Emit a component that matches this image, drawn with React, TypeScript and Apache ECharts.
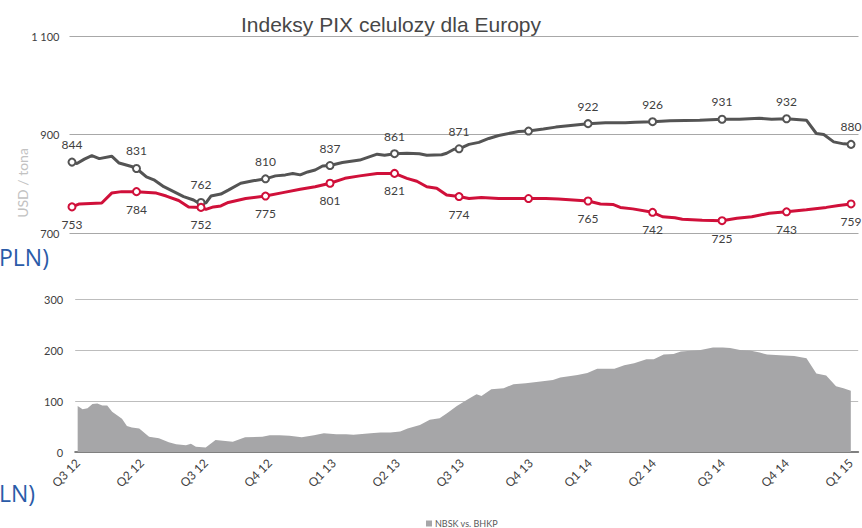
import React, { useEffect, useRef } from "react";
import * as echarts from "echarts";

const quarterWeeks = [0, 13, 26, 39, 52, 65, 78, 92, 104, 117, 131, 144, 157];
const quarterLabels = ["Q3 12", "Q2 12", "Q3 12", "Q4 12", "Q1 13", "Q2 13", "Q3 13", "Q4 13", "Q1 14", "Q2 14", "Q3 14", "Q4 14", "Q1 15"];
const unlabeledWeeks = [92];

const grayWeeks = [0, 1, 2.5, 4, 5.5, 8, 9.5, 12, 13, 15, 16.5, 18.5, 20.5, 22.5, 24.5, 25.5, 26, 27, 28, 30, 31.5, 34, 36.5, 39, 41, 43, 44.5, 46, 47.5, 49, 50.5, 52, 54.5, 58, 61.5, 63, 65, 67.5, 70, 71.5, 74.5, 75.5, 77, 78, 80, 82, 84, 86, 89, 90, 92, 95, 97.5, 101, 104, 107.5, 111.5, 113.5, 117, 120.5, 126.5, 131, 134.5, 138.5, 141, 144, 148, 150, 151.5, 153.5, 155.5, 157];
const grayValues = [844, 841, 850, 857, 851, 856, 842, 835, 831, 814, 808, 794, 784, 774, 767, 761, 762, 761, 775, 779, 787, 801, 806, 810, 816, 818, 821, 818, 824, 828, 836, 837, 843, 848, 860, 858, 861, 862, 861, 858, 859, 862, 870, 871, 880, 884, 892, 898, 904, 906, 907, 911, 915, 919, 922, 924, 924, 925, 926, 928, 929, 931, 931, 933, 931, 932, 929, 902, 900, 885, 881, 880];

const redWeeks = [0, 1.5, 6, 8, 10, 13, 17, 19, 21.5, 23.5, 26, 27, 28.5, 30, 31.5, 35, 39, 42.5, 46, 49, 52, 55, 58, 61.5, 65, 67.5, 69.5, 71.5, 73.5, 75.5, 78, 80, 82.5, 86, 92, 95.5, 98, 104, 106.5, 109, 110.5, 113, 117, 119, 121.5, 123, 127, 131, 134, 137, 140.5, 144, 148, 152, 154.5, 157];
const redValues = [753, 759, 761, 781, 784, 784, 781, 775, 766, 753, 752, 748, 753, 755, 762, 770, 775, 782, 789, 794, 801, 811, 816, 821, 821, 811, 805, 794, 791, 777, 774, 770, 772, 770, 770, 770, 769, 765, 759, 758, 752, 749, 742, 733, 731, 728, 726, 725, 730, 733, 740, 743, 747, 752, 756, 759];

const spreadWeeks = [0, 1, 2, 3, 4, 5, 6, 7, 9, 10, 11, 12.5, 14.5, 16.5, 18.5, 20, 22, 23, 24, 26, 28, 29.5, 31.5, 34, 37.5, 39, 41, 43, 45.5, 48, 50, 52.5, 54.5, 56, 59.5, 61.5, 63.5, 65.5, 67, 69.5, 71.5, 73.5, 75, 77, 78, 79.5, 81, 82, 84, 86.5, 88.5, 91, 94, 96.5, 98, 101.5, 103.5, 105.5, 109, 111, 113, 115.5, 117, 119, 121, 122.5, 126.5, 129, 131, 132.5, 134.5, 136.5, 138.5, 140, 143.5, 145.5, 148, 150, 152, 154, 155.5, 157];
const spreadValues = [90, 84, 86, 94, 95, 91, 91, 79, 65, 51, 48, 46, 30, 27, 19, 15, 13, 16, 10.5, 9, 23.5, 22, 20, 29, 30, 33, 33, 32, 29, 33, 37, 35, 35, 34, 37, 38, 38, 40, 46, 53, 63, 66, 76, 90, 96, 105, 113, 110, 123, 125, 133, 135, 138, 141, 146, 151, 155, 163, 163, 170, 174, 182, 182, 191, 192, 197, 200, 205, 205, 204, 200, 199, 195, 191, 189, 188, 184, 154, 150, 129, 125, 120];

const topTicks = { min: 700, max: 1100, interval: 200 };
const bottomTicks = { min: 0, max: 300, interval: 100 };

const GRAY = "#545454";
const RED = "#d0103a";
const AREA = "#a6a6a8";
const TEXT = "#404040";
const GRID = "#a8a8a8";
const FONT = "Lato, 'Liberation Sans', sans-serif";

function fmtThousands(v: number): string {
  if (v >= 1000) {
    return `${Math.floor(v / 1000)} ${String(v % 1000).padStart(3, "0")}`;
  }
  return String(v);
}

function buildLine(weeks: number[], values: number[]) {
  return weeks.map((w, i) => {
    const isQ = quarterWeeks.includes(w);
    return {
      value: [w, values[i]],
      symbol: isQ ? "circle" : "none",
      label: { show: isQ && !unlabeledWeeks.includes(w) },
    };
  });
}

export default function App() {
  const ref = useRef<HTMLDivElement>(null);

  useEffect(() => {
    if (!ref.current) return;
    const chart = echarts.init(ref.current, undefined, { renderer: "svg" });

    const xCommon = { type: "value", min: -0.5, max: 158.5 };

    chart.setOption({
      animation: false,
      textStyle: { fontFamily: FONT },
      title: {
        text: "Indeksy PIX celulozy dla Europy",
        left: 386,
        textAlign: "center",
        top: 9,
        textStyle: {
          fontFamily: "'Liberation Sans', Arial, sans-serif",
          fontSize: 21,
          fontWeight: "normal",
          color: "#474747",
        },
      },
      legend: {
        data: ["NBSK vs. BHKP"],
        left: 421,
        top: 514,
        icon: "rect",
        itemWidth: 6,
        itemHeight: 6,
        itemGap: 3,
        textStyle: { fontSize: 9, color: "#595959", fontFamily: FONT, padding: [0, 0, 0, -2] },
      },
      grid: [
        { left: 69.5, width: 789, top: 36, height: 197 },
        { left: 75.2, width: 783, top: 299, height: 153 },
      ],
      xAxis: [
        {
          ...xCommon,
          gridIndex: 0,
          show: false,
          splitLine: { show: false },
        },
        {
          ...xCommon,
          gridIndex: 1,
          axisLine: { show: true, lineStyle: { color: "#808080", width: 2 } },
          axisTick: { show: false },
          splitLine: { show: false },
          axisLabel: {
            customValues: quarterWeeks,
            rotate: 45,
            margin: 9,
            fontSize: 12,
            color: TEXT,
            fontFamily: FONT,
            formatter: (v: number) => {
              const idx = quarterWeeks.indexOf(v);
              return idx >= 0 ? quarterLabels[idx] : "";
            },
          },
        },
      ],
      yAxis: [
        {
          type: "value",
          gridIndex: 0,
          ...topTicks,
          axisLine: { show: false },
          axisTick: { show: false },
          splitLine: { show: true, lineStyle: { color: GRID, width: 1 } },
          axisLabel: {
            margin: 10,
            fontSize: 11,
            color: TEXT,
            fontFamily: FONT,
            formatter: (v: number) => fmtThousands(v),
          },
        },
        {
          type: "value",
          gridIndex: 1,
          ...bottomTicks,
          axisLine: { show: false },
          axisTick: { show: false },
          splitLine: { show: true, lineStyle: { color: "#bdbdbd", width: 1 } },
          axisLabel: {
            margin: 12,
            fontSize: 11,
            color: TEXT,
            fontFamily: FONT,
          },
        },
      ],
      graphic: [
        {
          type: "text",
          x: 22,
          y: 183,
          rotation: Math.PI / 2,
          style: {
            text: "USD / tona",
            fill: "#c2c2c2",
            fontSize: 14,
            fontFamily: FONT,
            align: "center",
            verticalAlign: "middle",
          },
        },
        {
          type: "text",
          x: -1,
          y: 257,
          style: {
            text: "PLN)",
            fill: "#2a5ba8",
            fontSize: 23,
            fontFamily: "'Open Sans', sans-serif",
            align: "left",
            verticalAlign: "middle",
          },
        },
        {
          type: "text",
          x: -1,
          y: 493,
          style: {
            text: "LN)",
            fill: "#2a5ba8",
            fontSize: 23,
            fontFamily: "'Open Sans', sans-serif",
            align: "left",
            verticalAlign: "middle",
          },
        },
      ],
      series: [
        {
          name: "NBSK",
          type: "line",
          xAxisIndex: 0,
          yAxisIndex: 0,
          data: buildLine(grayWeeks, grayValues),
          symbolSize: 7,
          showAllSymbol: true,
          lineStyle: { color: GRAY, width: 3 },
          itemStyle: { color: "#ffffff", borderColor: GRAY, borderWidth: 2 },
          label: {
            position: "top",
            distance: 7,
            color: TEXT,
            fontSize: 12,
            fontFamily: FONT,
            formatter: (p: any) => String(p.value[1]),
          },
          z: 3,
        },
        {
          name: "BHKP",
          type: "line",
          xAxisIndex: 0,
          yAxisIndex: 0,
          data: buildLine(redWeeks, redValues),
          symbolSize: 7,
          showAllSymbol: true,
          lineStyle: { color: RED, width: 3 },
          itemStyle: { color: "#ffffff", borderColor: RED, borderWidth: 2 },
          label: {
            position: "bottom",
            distance: 7,
            color: TEXT,
            fontSize: 12,
            fontFamily: FONT,
            formatter: (p: any) => String(p.value[1]),
          },
          z: 3,
        },
        {
          name: "NBSK vs. BHKP",
          type: "line",
          xAxisIndex: 1,
          yAxisIndex: 1,
          data: spreadWeeks.map((w, i) => [w, spreadValues[i]]),
          symbol: "none",
          lineStyle: { width: 0, color: AREA },
          itemStyle: { color: AREA },
          areaStyle: { color: AREA, opacity: 1 },
          z: 1,
        },
      ],
    });

    return () => {
      chart.dispose();
    };
  }, []);

  return (
    <div
      ref={ref}
      style={{ position: "fixed", left: 0, top: 0, width: 862, height: 528, background: "#ffffff" }}
    />
  );
}
